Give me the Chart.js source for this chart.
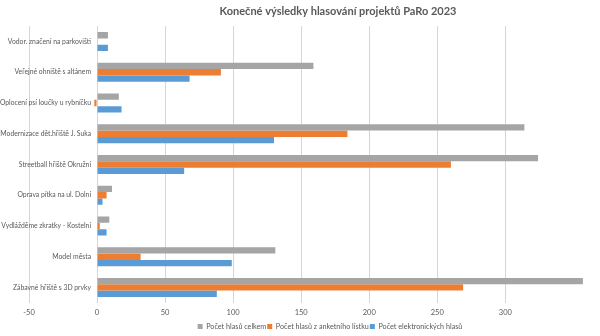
<!DOCTYPE html>
<html>
<head>
<meta charset="utf-8">
<script src="https://cdn.jsdelivr.net/npm/chart.js@4.4.1/dist/chart.umd.min.js"></script>
<style>
  html, body { margin: 0; padding: 0; background: #fff; }
  #wrap { width: 600px; height: 336px; }
</style>
</head>
<body>
<div id="wrap"><canvas id="graf"></canvas></div>
<script>
var projekty = [
	"Vodor. značení na parkovišti",
	"Veřejné ohniště s altánem",
	"Oplocení psí loučky u rybníčku",
	"Modernizace dět.hřiště J. Suka",
	"Streetball hřiště Okružní",
	"Oprava pítka na ul. Dolní",
	"Vydlážděme zkratky - Kostelní",
	"Model města",
	"Zábavné hřiště s 3D prvky"
];
var hlasyCelkem = [8, 159, 16, 314, 324, 11, 9, 131, 357];
var hlasyListek = [0, 91, -2, 184, 260, 7, 2, 32, 269];
var hlasyElektronicke = [8, 68, 18, 130, 64, 4, 7, 99, 88];
var osaMin = -50;
var osaMax = 360;
var osaKrok = 50;

var sedaBarva = "#595959";
var pismo = "Lato, 'Open Sans', sans-serif";

// titulek a legenda jsou v Excelu posunute doprava
var posunBloku = {
	id: "posunBloku",
	afterLayout: function(chart) {
		if (chart.legend) {
			chart.legend.left += 22;
			chart.legend.right += 22;
		}
		if (chart.titleBlock) {
			chart.titleBlock.left += 30;
			chart.titleBlock.right += 30;
		}
	}
};

// popisky kategorii vedle osy v nule (jako v Excelu)
var popiskyKategorii = {
	id: "popiskyKategorii",
	afterDatasetsDraw: function(chart) {
		var ctx = chart.ctx;
		var osaX = chart.scales.x;
		var osaY = chart.scales.y;
		var x = osaX.getPixelForValue(0) - 6;
		ctx.save();
		ctx.font = "6.8px " + pismo;
		ctx.fillStyle = sedaBarva;
		ctx.textAlign = "right";
		ctx.textBaseline = "middle";
		for (var i = 0; i < chart.data.labels.length; i++) {
			ctx.fillText(chart.data.labels[i], x, osaY.getPixelForValue(i));
		}
		ctx.restore();
	}
};

new Chart(document.getElementById("graf"), {
	type: 'bar',
	data: {
		labels: projekty,
		datasets: [{
			label: "Počet hlasů celkem",
			data: hlasyCelkem,
			backgroundColor: "#a5a5a5"
		}, {
			label: "Počet hlasů z anketního lístku",
			data: hlasyListek,
			backgroundColor: "#ed7d31"
		}, {
			label: "Počet elektronických hlasů",
			data: hlasyElektronicke,
			backgroundColor: "#5b9bd5"
		}]
	},
	options: {
		indexAxis: 'y',
		responsive: true,
		maintainAspectRatio: false,
		animation: false,
		datasets: {
			bar: {
				categoryPercentage: 0.62,
				barPercentage: 1
			}
		},
		layout: {
			padding: { left: 29, right: 13, top: 0, bottom: -4 }
		},
		scales: {
			x: {
				min: osaMin,
				max: osaMax,
				afterBuildTicks: function(scale) {
					scale.ticks = scale.ticks.filter(function(t) { return t.value % osaKrok === 0; });
				},
				ticks: {
					stepSize: osaKrok,
					color: sedaBarva,
					font: { family: pismo, size: 7.5 },
					padding: 5
				},
				grid: {
					color: "#d6d6d6",
					lineWidth: 1,
					drawTicks: false
				},
				border: { display: false }
			},
			y: {
				display: false
			}
		},
		plugins: {
			title: {
				display: true,
				text: "Konečné výsledky hlasování projektů PaRo 2023",
				color: sedaBarva,
				font: { family: pismo, size: 11, weight: 'bold' },
				padding: { top: 5, bottom: 8 }
			},
			legend: {
				position: 'bottom',
				labels: {
					color: sedaBarva,
					font: { family: pismo, size: 7.2 },
					boxWidth: 5,
					boxHeight: 5,
					padding: 1
				}
			},
			tooltip: { enabled: false }
		}
	},
	plugins: [posunBloku, popiskyKategorii]
});
</script>
</body>
</html>
